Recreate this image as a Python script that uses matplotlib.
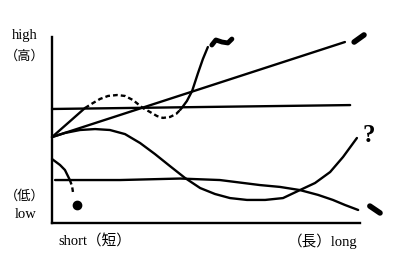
import matplotlib
matplotlib.use("Agg")
import matplotlib.pyplot as plt

# ---- data (sketch curves, axis units 0..10) ----
line_a_x = [0.0, 9.51]
line_a_y = [4.62, 9.73]

flat_hi_x = [0.0, 9.68]
flat_hi_y = [6.13, 6.34]

wave_solid1_x = [0.0, 0.55, 1.07]
wave_solid1_y = [4.62, 5.42, 6.18]
wave_dash_x = [1.07, 1.33, 1.56, 1.82, 2.11, 2.37, 2.63, 2.95, 3.18, 3.41, 3.60, 3.83, 4.03, 4.16]
wave_dash_y = [6.18, 6.45, 6.67, 6.83, 6.88, 6.83, 6.61, 6.18, 5.97, 5.75, 5.65, 5.70, 5.86, 6.08]
wave_solid2_x = [4.16, 4.22, 4.38, 4.55, 4.74, 4.90, 5.06]
wave_solid2_y = [6.08, 6.20, 6.56, 7.10, 8.06, 8.82, 9.46]

hump_x = [0, 0.42, 0.91, 1.40, 1.88, 2.37, 2.86, 3.34, 3.83, 4.32, 4.81, 5.29,
          5.78, 6.33, 6.92, 7.50, 8.05, 8.54, 9.03, 9.45, 9.90]
hump_y = [4.62, 4.84, 5.00, 5.05, 5.00, 4.78, 4.30, 3.71, 3.06, 2.42, 1.88, 1.56,
          1.34, 1.24, 1.24, 1.34, 1.77, 2.15, 2.74, 3.55, 4.57]

flat_lo_x = [0.10, 2.21, 4.16, 5.45, 6.75, 7.40, 8.05, 8.64, 9.12, 9.51, 9.94]
flat_lo_y = [2.31, 2.31, 2.39, 2.31, 2.04, 1.94, 1.77, 1.51, 1.24, 0.97, 0.70]

drop_solid_x = [0.0, 0.26, 0.42, 0.58]
drop_solid_y = [3.44, 3.12, 2.85, 2.31]
drop_dash_x = [0.58, 0.65, 0.68]
drop_dash_y = [2.31, 1.99, 1.67]
dot_x = [0.81]
dot_y = [0.97]

tilde_x = [5.19, 5.32, 5.52, 5.71, 5.84]
tilde_y = [9.57, 9.84, 9.73, 9.68, 9.89]
slash_x = [9.81, 10.13]
slash_y = [9.73, 10.11]
bslash_x = [10.32, 10.65]
bslash_y = [0.91, 0.54]
qmark_x = [10.29]
qmark_y = [4.68]

y_labels = ["high", "（高）", "（低）", "low"]
x_labels = ["short（短）", "（長）long"]

fam = ["Liberation Serif", "Noto Sans CJK JP"]

fig = plt.figure(figsize=(4.0, 2.6), dpi=100)
ax = fig.add_axes([52/400, 1-223/260, (360-52)/400, (223-37)/260])
ax.set_xlim(0, 10)
ax.set_ylim(0, 10)
for s in ["top", "right"]:
    ax.spines[s].set_visible(False)
for s in ["left", "bottom"]:
    ax.spines[s].set_linewidth(1.7)
    ax.spines[s].set_color("black")
ax.set_xticks([])
ax.set_yticks([])

lw = 1.7
kw = dict(color="black", lw=lw, solid_capstyle="round", solid_joinstyle="round", clip_on=False)
dkw = dict(color="black", lw=lw, ls=(0, (2, 1.3)), clip_on=False)
ax.plot(line_a_x, line_a_y, **kw)
ax.plot(flat_hi_x, flat_hi_y, **kw)
ax.plot(wave_solid1_x, wave_solid1_y, **kw)
ax.plot(wave_dash_x, wave_dash_y, **dkw)
ax.plot(wave_solid2_x, wave_solid2_y, **kw)
ax.plot(hump_x, hump_y, **kw)
ax.plot(flat_lo_x, flat_lo_y, **kw)
ax.plot(drop_solid_x, drop_solid_y, **kw)
ax.plot(drop_dash_x, drop_dash_y, **dkw)
ax.plot(dot_x, dot_y, "o", color="black", ms=6, clip_on=False)

ax.plot(tilde_x, tilde_y, color="black", lw=3.5, solid_capstyle="round", solid_joinstyle="round", clip_on=False)
ax.plot(slash_x, slash_y, color="black", lw=4, solid_capstyle="round", clip_on=False)
ax.plot(bslash_x, bslash_y, color="black", lw=4, solid_capstyle="round", clip_on=False)
ax.text(qmark_x[0], qmark_y[0], "?", fontsize=18, fontweight="bold", family=fam,
        ha="center", va="center", clip_on=False)

fs = 10.5
fig.text(25/400, 1-35/260, y_labels[0], fontsize=fs, family=fam, ha="center", va="center")
fig.text(25/400, 1-56/260, y_labels[1], fontsize=fs-1, family=fam, ha="center", va="center")
fig.text(25/400, 1-196/260, y_labels[2], fontsize=fs-1, family=fam, ha="center", va="center")
fig.text(26/400, 1-214/260, y_labels[3], fontsize=fs, family=fam, ha="center", va="center")
fig.text(58/400, 1-241/260, x_labels[0], fontsize=fs, family=fam, ha="left", va="center")
fig.text(357/400, 1-241/260, x_labels[1], fontsize=fs, family=fam, ha="right", va="center")

fig.savefig("out.png", dpi=100, facecolor="white")
